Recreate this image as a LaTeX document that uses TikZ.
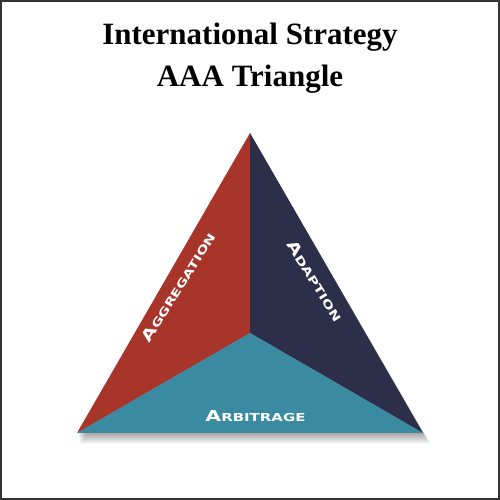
\documentclass[tikz,border=0pt]{standalone}
\usepackage{fontspec}
\setmainfont{Liberation Serif}
\newfontfamily\labelfont{DejaVu Sans}
\definecolor{aggred}{HTML}{A8352A}
\definecolor{adanavy}{HTML}{2D2F4A}
\definecolor{arbteal}{HTML}{3A8BA2}
\definecolor{framegray}{HTML}{333333}
\tikzset{
  x=1pt, y=1pt,
  titletext/.style={anchor=base, font=\fontsize{31}{36}\selectfont\bfseries, text=black, inner sep=0pt},
  facelabel/.style={text=white, inner sep=0pt},
}
\newcommand{\bigsc}[2]{\scalebox{1.36}[1]{\labelfont\bfseries{\fontsize{15}{16}\selectfont #1}{\fontsize{11}{12}\selectfont #2}}}
\begin{document}
\begin{tikzpicture}
\useasboundingbox (0,0) rectangle (500,500);
\fill[white] (0,0) rectangle (500,500);
\draw[framegray, line width=2pt] (1,1) rectangle (499,499);

\node[titletext] (t1) at (250,455) {International Strategy};
\node[titletext] (t2) at (250,413) {AAA Triangle};

\coordinate (apex) at (250,367);
\coordinate (bl) at (77,67);
\coordinate (br) at (423,67);
\coordinate (ctr) at (250,167);

% soft shadow
\foreach \i in {1,...,12}{
  \fill[black, opacity=0.03] ([shift={(0.5*\i,-0.9*\i)}]apex) -- ([shift={(0.6*\i,-0.9*\i)}]br) -- ([shift={(0.3*\i,-0.9*\i)}]bl) -- cycle;
}

\fill[aggred] (apex) -- (ctr) -- (bl) -- cycle;
\fill[adanavy] (apex) -- (br) -- (ctr) -- cycle;
\fill[arbteal] (bl) -- (ctr) -- (br) -- cycle;

\node[facelabel, rotate=58] (agg) at (178,213) {\bigsc{A}{GGREGATION}};
\node[facelabel, rotate=-58] (ada) at (315,219) {\bigsc{A}{DAPTION}};
\node[facelabel, anchor=base] (arb) at (255.5,78) {\bigsc{A}{RBITRAGE}};
\end{tikzpicture}
\end{document}
